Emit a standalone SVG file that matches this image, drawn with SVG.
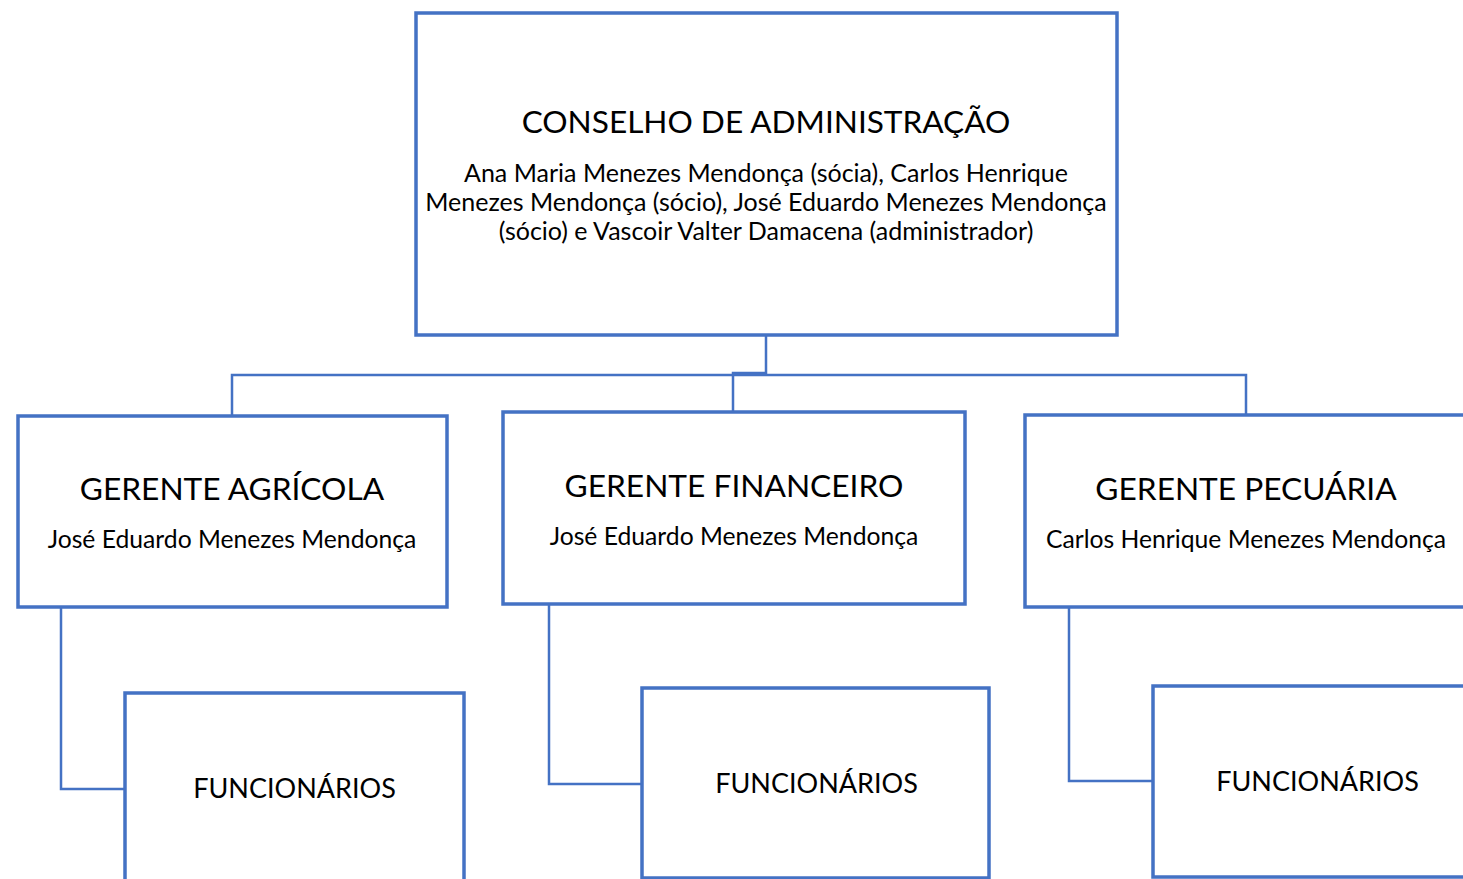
<svg xmlns="http://www.w3.org/2000/svg" width="1463" height="879" viewBox="0 0 1463 879">
<style>
.box{fill:#fff;stroke:#4472C4;stroke-width:3.5}
.con{fill:none;stroke:#4472C4;stroke-width:2.5}
text{font-family:Lato,"Open Sans",sans-serif;fill:#000;text-anchor:middle}
.t1{font-size:31.6px}
.t2{font-size:25px}
.g1{font-size:31.7px}
.g2{font-size:24.7px}
.f{font-size:27px}
</style>
<rect width="1463" height="879" fill="#fff"/>
<g id="connectors">
<polyline class="con" points="766,335 766,373 733,373 733,412"/>
<polyline class="con" points="232,416 232,375 1246,375 1246,415"/>
<polyline class="con" points="61,607 61,789 125,789"/>
<polyline class="con" points="549,604 549,784 642,784"/>
<polyline class="con" points="1069,607 1069,781 1153,781"/>
</g>
<g id="conselho">
<rect class="box" x="416" y="13" width="701" height="322"/>
<text class="t1" x="766" y="133">CONSELHO DE ADMINISTRAÇÃO</text>
<text class="t2" x="766" y="182">Ana Maria Menezes Mendonça (sócia), Carlos Henrique</text>
<text class="t2" x="766" y="211">Menezes Mendonça (sócio), José Eduardo Menezes Mendonça</text>
<text class="t2" x="766" y="240">(sócio) e Vascoir Valter Damacena (administrador)</text>
</g>
<g id="gerente-agricola">
<rect class="box" x="18" y="416" width="429" height="191"/>
<text class="g1" x="232" y="500">GERENTE AGRÍCOLA</text>
<text class="g2" x="232" y="548">José Eduardo Menezes Mendonça</text>
</g>
<g id="gerente-financeiro">
<rect class="box" x="503" y="412" width="462" height="192"/>
<text class="g1" x="734" y="497">GERENTE FINANCEIRO</text>
<text class="g2" x="734" y="545">José Eduardo Menezes Mendonça</text>
</g>
<g id="gerente-pecuaria">
<rect class="box" x="1025" y="415" width="446" height="192"/>
<text class="g1" x="1246" y="500">GERENTE PECUÁRIA</text>
<text class="g2" x="1246" y="548">Carlos Henrique Menezes Mendonça</text>
</g>
<g id="funcionarios-agricola">
<rect class="box" x="125" y="693" width="339" height="200"/>
<text class="f" x="294.5" y="798">FUNCIONÁRIOS</text>
</g>
<g id="funcionarios-financeiro">
<rect class="box" x="642" y="688" width="347" height="190"/>
<text class="f" x="816.5" y="793">FUNCIONÁRIOS</text>
</g>
<g id="funcionarios-pecuaria">
<rect class="box" x="1153" y="686" width="320" height="191"/>
<text class="f" x="1317.5" y="791">FUNCIONÁRIOS</text>
</g>
</svg>
